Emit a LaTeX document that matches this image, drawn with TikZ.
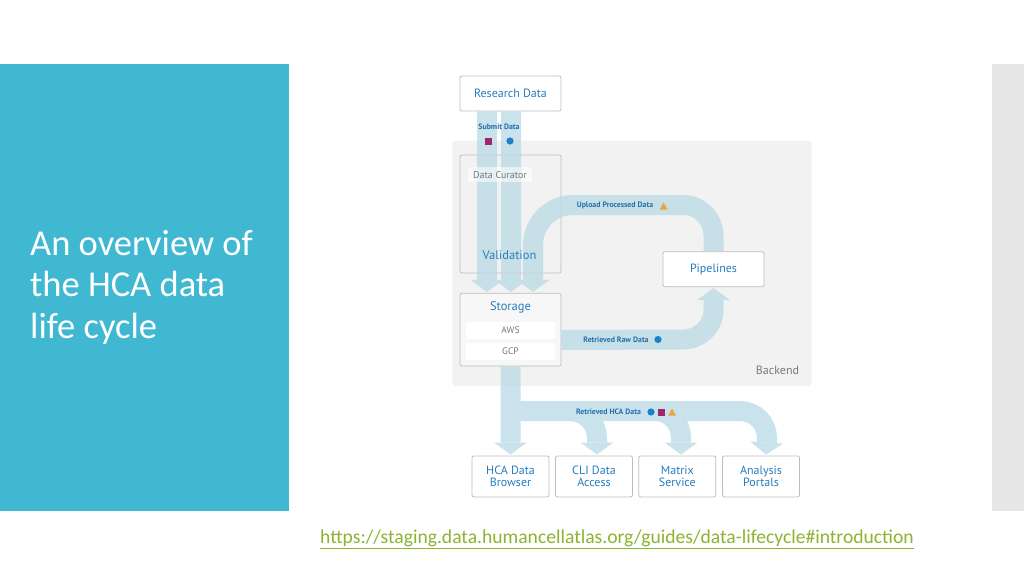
\documentclass[tikz,border=0pt]{standalone}
\usepackage{fontspec}
\setmainfont{PT Sans}
\newfontfamily\titlefont{Carlito}
\usetikzlibrary{arrows.meta,calc}
\definecolor{panel}{RGB}{64,184,210}
\definecolor{sidebar}{RGB}{230,230,230}
\definecolor{backc}{RGB}{242,242,242}
\definecolor{boxgray}{RGB}{190,190,190}
\definecolor{bluetxt}{RGB}{40,125,190}
\definecolor{lblblue}{RGB}{35,112,172}
\definecolor{bandc}{RGB}{188,219,230}
\definecolor{graytxt}{RGB}{120,120,120}
\definecolor{magsq}{RGB}{160,36,110}
\definecolor{bluedot}{RGB}{26,131,200}
\definecolor{orangetri}{RGB}{233,166,63}
\definecolor{linkgreen}{RGB}{140,180,50}
\tikzset{
  box/.style={draw=boxgray, line width=0.8pt, rounded corners=2pt, fill=white, text=bluetxt,
    font=\fontsize{12}{12}\selectfont, inner sep=0pt, align=center},
  band/.style={draw=bandc, line width=20pt, -{Triangle[width=33pt,length=12pt,line width=0pt]}},
  lbl/.style={text=lblblue, font=\fontsize{7.8}{8}\selectfont\bfseries, inner sep=0pt},
  cloudbox/.style={fill=white, text=graytxt, font=\fontsize{9.5}{10}\selectfont, inner sep=0pt,
    minimum width=89pt, minimum height=17pt},
}
\begin{document}
\begin{tikzpicture}[x=1pt,y=-1pt]
\useasboundingbox (0,0) rectangle (1024,576);
\fill[white] (0,0) rectangle (1024,576);
\fill[panel] (0,63.5) rectangle (289,511);
\fill[sidebar] (992,64) rectangle (1024,511);

\node[anchor=base west, align=left, text=white, inner sep=0pt,
  font=\titlefont\fontsize{36.5}{41.5}\selectfont] (title) at (30,338)
  {An overview of\\the HCA data\\life cycle};

\node[anchor=base west, inner sep=0pt, text=linkgreen, font=\titlefont\fontsize{19.6}{22}\selectfont]
  (link) at (320,543) {\underline{https://staging.data.humancellatlas.org/guides/data-lifecycle\#introduction}};

% backend container
\node[fill=backc, rounded corners=3pt, minimum width=359.4pt, minimum height=245.3pt, inner sep=0pt]
  (be) at (632,263.35) {};
\node[text=graytxt, font=\fontsize{12}{12}\selectfont, inner sep=0pt] (betxt) at (777.5,370.7) {Backend};

% boxes
\node[box, minimum width=101pt, minimum height=35pt] (rd) at (510.5,93.5) {Research Data};
\node[box, fill=none, minimum width=101pt, minimum height=118pt] (val) at (510.5,214) {};
\node[box, fill={rgb,255:red,247;green,247;blue,247}, minimum width=101pt, minimum height=72.7pt] (sto) at (510.5,329.65) {};
\node[cloudbox] (aws) at (510.5,330.5) {AWS};
\node[cloudbox] (gcp) at (510.5,351.3) {GCP};
\node[box, minimum width=101pt, minimum height=35pt] (pip) at (713.5,269.2) {Pipelines};

\node[box, minimum width=77pt, minimum height=41pt] (hb) at (510.5,476.4) {HCA Data\\Browser};
\node[box, minimum width=77pt, minimum height=41pt] (cli) at (594,476.4) {CLI Data\\Access};
\node[box, minimum width=77pt, minimum height=41pt] (ms) at (677.3,476.4) {Matrix\\Service};
\node[box, minimum width=77pt, minimum height=41pt] (ap) at (761,476.4) {Analysis\\Portals};

% bands
\begin{scope}[transparency group, opacity=0.78]
\draw[band] ([xshift=-23.5pt]rd.south) -- ([xshift=-23.5pt,yshift=1pt]sto.north);
\draw[band] ([xshift=0.5pt]rd.south) -- ([xshift=0.5pt,yshift=1pt]sto.north);
\draw[band] (pip.north) -- (713.5,236) .. controls (713.5,219) and (700,205) .. (683.5,205)
  -- (573,205) .. controls (550.9,205) and (533,222.9) .. (533,245)
  -- ([xshift=22.5pt,yshift=1pt]sto.north);
\draw[band] ([yshift=-10.35pt]sto.east) -- (683,339.5) .. controls (699.6,339.5) and (713.5,326.6) .. (713.5,310)
  -- ([yshift=-1pt]pip.south);
\draw[band] (sto.south) -- ([yshift=1pt]hb.north);
\draw[band] (510.5,411) -- (740,411) .. controls (755,411) and (767,423) .. (767,438)
  -- ([xshift=5pt,yshift=1pt]ap.north);
\draw[band] (570,411) .. controls (585,411) and (597,423) .. (597,438)
  -- ([xshift=3pt,yshift=1pt]cli.north);
\draw[band] (655,411) .. controls (670,411) and (681,423) .. (681,438)
  -- ([xshift=3.7pt,yshift=1pt]ms.north);
\end{scope}

% texts over bands
\node[fill=white, fill opacity=0.55, text opacity=1, text=graytxt, font=\fontsize{10}{10}\selectfont,
  inner sep=0pt, minimum width=64pt, minimum height=15pt] (dc) at (500,174.5) {Data Curator};
\node[text=bluetxt, font=\fontsize{12.5}{13}\selectfont, inner sep=0pt] (valtxt) at (509.5,255) {Validation};
\node[text=bluetxt, font=\fontsize{12.5}{13}\selectfont, inner sep=0pt] (stotxt) at (510.5,307) {Storage};

\node[lbl] (submit) at (499,127) {Submit Data};
\fill[magsq] (484.5,137.5) rectangle (491.5,144.5);
\fill[bluedot] (510,141) circle (3.6);

\node[lbl] (upl) at (615,206) {Upload Processed Data};
\fill[orangetri] (659.5,209.5) -- (667.5,209.5) -- (663.5,202.5) -- cycle;

\node[lbl] (raw) at (616,339.5) {Retrieved Raw Data};
\fill[bluedot] (658,339.5) circle (3.6);

\node[lbl] (hca) at (608.5,412) {Retrieved HCA Data};
\fill[bluedot] (651,412) circle (3.6);
\fill[magsq] (657.5,408.5) rectangle (664.5,415.5);
\fill[orangetri] (668,415.5) -- (676,415.5) -- (672,408.5) -- cycle;
\end{tikzpicture}
\end{document}
